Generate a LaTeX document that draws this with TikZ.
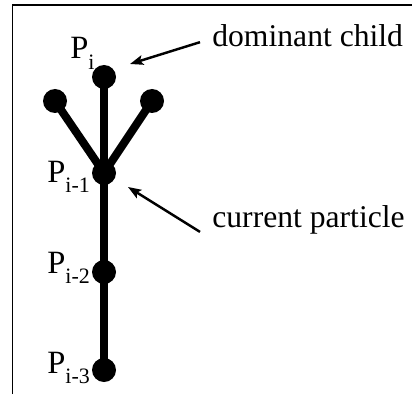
\documentclass[tikz,border=0pt]{standalone}
\usepackage{fontspec}
\setmainfont{Liberation Serif}
\usepackage{tikz}
\usetikzlibrary{positioning,calc}
\usetikzlibrary{arrows.meta}
\newcommand{\Psub}[1]{P\raisebox{-0.32em}{\fontsize{12.5}{12.5}\selectfont #1}}
\tikzset{
  dot/.style={circle,fill=black,inner sep=0pt,minimum size=0.48cm},
  edge/.style={draw=black,line width=4.6pt},
  frame/.style={draw=black,line width=1.1pt},
  pointer/.style={draw=black,line width=1.4pt,-{Stealth[length=7.5pt,width=5.5pt,inset=1.5pt]}},
}
\tikzset{plab/.style={anchor=base west,inner sep=0pt,font=\fontsize{18.5}{21}\selectfont}, note/.style={anchor=base west,inner sep=0pt,font=\fontsize{18}{21}\selectfont}}

\begin{document}
\begin{tikzpicture}[scale=1]
\useasboundingbox (0,0) rectangle (8.24,7.88);
\coordinate (fa) at (0.25,0);
\coordinate (fb) at (0.25,7.78);
\coordinate (fc) at (8.24,7.78);
\draw[frame] (fa)--(fb)--(fc);
\coordinate (p0) at (2.08,6.34);
\coordinate (cl) at (1.10,5.86);
\coordinate (cr) at (3.04,5.86);
\coordinate (p1) at (2.08,4.42);
\coordinate (p2) at (2.08,2.44);
\coordinate (p3) at (2.08,0.48);
\draw[edge] (p1)--(p0);
\draw[edge] (p1)--(cl);
\draw[edge] (p1)--(cr);
\draw[edge] (p1)--(p2);
\draw[edge] (p2)--(p3);
\node[dot] (n0) at (p0) {};
\node[dot] (nl) at (cl) {};
\node[dot] (nr) at (cr) {};
\node[dot] (n1) at (p1) {};
\node[dot] (n2) at (p2) {};
\node[dot] (n3) at (p3) {};
\node[plab] (l0) at (1.40,6.70) {\Psub{i}};
\node[plab] (l1) at (0.94,4.24) {\Psub{i-1}};
\node[plab] (l2) at (0.94,2.42) {\Psub{i-2}};
\node[plab] (l3) at (0.94,0.42) {\Psub{i-3}};
\node[note] (dom) at (4.24,6.94) {dominant child};
\node[note] (cur) at (4.24,3.34) {current particle};
\coordinate (domtip) at (2.60,6.60);
\coordinate (curtip) at (2.56,4.14);
\draw[pointer] ([shift={(-0.24,-0.12)}]dom.west) -- (domtip);
\draw[pointer] ([shift={(-0.24,-0.25)}]cur.west) -- (curtip);
\end{tikzpicture}
\end{document}
